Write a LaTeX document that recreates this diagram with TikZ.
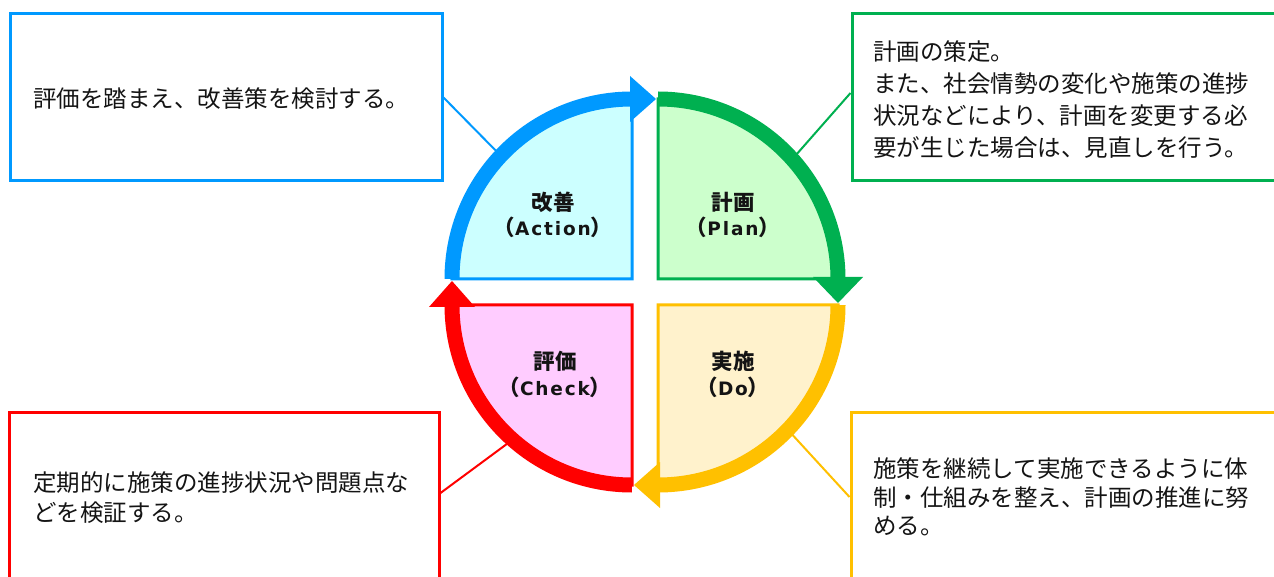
\documentclass[tikz,border=0pt]{standalone}
\usepackage{fontspec}
\newfontfamily\jp{Noto Sans CJK JP}
\newfontfamily\lat{DejaVu Sans}[LetterSpace=10]
\definecolor{blueC}{RGB}{0,153,255}
\definecolor{greenC}{RGB}{0,176,80}
\definecolor{redC}{RGB}{255,0,0}
\definecolor{yellowC}{RGB}{255,192,0}
\definecolor{blueF}{RGB}{204,255,255}
\definecolor{greenF}{RGB}{204,255,204}
\definecolor{redF}{RGB}{255,204,255}
\definecolor{yellowF}{RGB}{255,242,204}
\definecolor{txt}{RGB}{20,20,20}
\newcommand{\eng}[1]{{\lat\bfseries\fontsize{18.5}{25}\selectfont #1}}
\tikzset{
  descbox/.style={draw=#1, line width=3pt, fill=white, inner sep=0pt},
  link/.style={draw=#1, line width=2pt},
  desc/.style={anchor=west, inner sep=0pt, align=left, text=txt,
    font=\jp\fontsize{23.5}{#1}\selectfont},
  quad/.style={line width=3pt},
  ring/.style={line width=15pt},
  lbl/.style={align=center, inner sep=0pt, text=txt,
    font=\jp\bfseries\fontsize{21.5}{25.5}\selectfont},
}
\begin{document}
\begin{tikzpicture}[x=1pt,y=1pt]
\useasboundingbox (0,0) rectangle (1274,576);
\clip (0,0) rectangle (1274,576);
\fill[white] (0,0) rectangle (1274,576);

% description boxes
\node[descbox=blueC, minimum width=432pt, minimum height=167pt] (boxA) at (226,478.5) {};
\node[descbox=greenC, minimum width=438pt, minimum height=167pt] (boxP) at (1071,478.5) {};
\node[descbox=redC, minimum width=430pt, minimum height=193pt] (boxC) at (224,66.5) {};
\node[descbox=yellowC, minimum width=439pt, minimum height=193pt] (boxD) at (1070.5,66.5) {};

% attachment points on the ring
\path (632,297) ++(136.7:187) coordinate (rA);
\path (658,297) ++(42:187) coordinate (rP);
\path (658,271) ++(-44:187) coordinate (rD);
\path (632,271) ++(228:187) coordinate (rC);

% connectors
\draw[link=blueC] (boxA.east) -- (rA);
\draw[link=greenC] ([yshift=4.5pt]boxP.west) -- (rP);
\draw[link=redC] ([yshift=16.5pt]boxC.east) -- (rC);
\draw[link=yellowC] ([yshift=12.5pt]boxD.west) -- (rD);

% quadrants
\filldraw[quad, fill=blueF, draw=blueC] (632,297) -- ++(180:180) arc[start angle=180, end angle=90, radius=180] -- cycle;
\filldraw[quad, fill=greenF, draw=greenC] (658,297) -- ++(90:180) arc[start angle=90, end angle=0, radius=180] -- cycle;
\filldraw[quad, fill=yellowF, draw=yellowC] (658,271) -- ++(0:180) arc[start angle=0, end angle=-90, radius=180] -- cycle;
\filldraw[quad, fill=redF, draw=redC] (632,271) -- ++(270:180) arc[start angle=270, end angle=180, radius=180] -- cycle;

% thick arcs
\draw[ring, blueC] (632,297) ++(180:180) arc[start angle=180, end angle=90, radius=180];
\draw[ring, greenC] (658,297) ++(90:180) arc[start angle=90, end angle=0, radius=180];
\draw[ring, yellowC] (658,271) ++(0:180) arc[start angle=0, end angle=-90, radius=180];
\draw[ring, redC] (632,271) ++(270:180) arc[start angle=270, end angle=180, radius=180];

% arrowheads
\fill[blueC] (630,500) -- (656,477) -- (630,454) -- cycle;
\fill[greenC] (813,299) -- (838,273) -- (863,299) -- cycle;
\fill[yellowC] (660,114) -- (634,91) -- (660,68) -- cycle;
\fill[redC] (429,269) -- (452,295) -- (475,269) -- cycle;

% quadrant labels
\node[lbl] (lA) at (553,361) {改善\\（\eng{Action}）};
\node[lbl] (lP) at (733,361) {計画\\（\eng{Plan}）};
\node[lbl] (lC) at (555,201.5) {評価\\（\eng{Check}）};
\node[lbl] (lD) at (733,201.5) {実施\\（\eng{Do}）};

% descriptions
\node[desc=32] (tA) at (33,477) {評価を踏まえ、改善策を検討する。};
\node[desc=32] (tP) at (873,476) {計画の策定。\\また、社会情勢の変化や施策の進捗\\状況などにより、計画を変更する必\\要が生じた場合は、見直しを行う。};
\node[desc=30] (tC) at (33,78) {定期的に施策の進捗状況や問題点な\\どを検証する。};
\node[desc=28.5] (tD) at (873,79) {施策を継続して実施できるように体\\制・仕組みを整え、計画の推進に努\\める。};
\end{tikzpicture}
\end{document}
